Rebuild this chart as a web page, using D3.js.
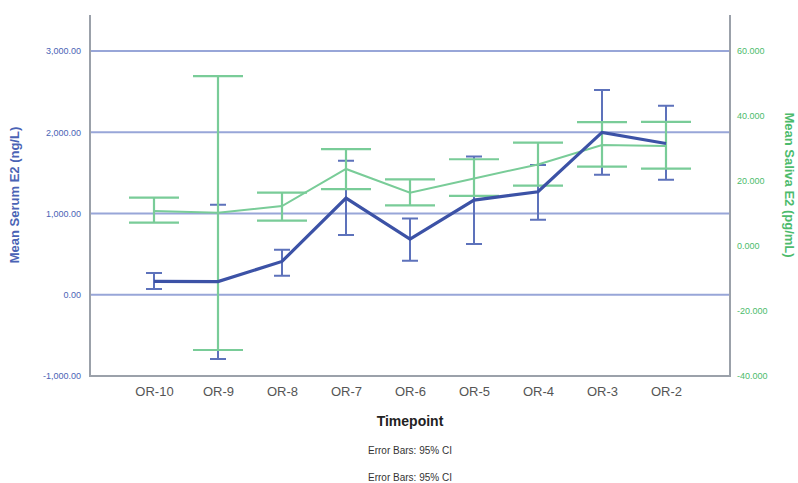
<!DOCTYPE html>
<meta charset="utf-8">
<head>
  <title>Serum and saliva E2 by timepoint</title>
  <style>
    body { margin: 0; background: #fff; }
    text { font-family: "Liberation Sans", Arial, sans-serif; }
  </style>
</head>

<body>
  <svg width="798" height="483"></svg>

  <script src="https://cdn.jsdelivr.net/npm/d3@7/dist/d3.min.js"></script>
  <script>
var timepoints = ['OR-10', 'OR-9', 'OR-8', 'OR-7', 'OR-6', 'OR-5', 'OR-4', 'OR-3', 'OR-2'];

// serum E2 (ng/L), left axis
var serumMean = [164, 162, 410, 1190, 685, 1165, 1268, 1998, 1862];
var serumLow  = [70, -792, 234, 735, 418, 624, 923, 1477, 1415];
var serumHigh = [267, 1108, 554, 1649, 939, 1702, 1596, 2519, 2326];

// saliva E2 (pg/mL), right axis
var salivaMean = [10.8, 10.2, 12.3, 23.7, 16.4, 20.8, 25.1, 31.1, 30.8];
var salivaLow  = [7.2, -32, 7.8, 17.5, 12.5, 15.4, 18.6, 24.4, 23.8];
var salivaHigh = [14.9, 52.3, 16.4, 29.8, 20.5, 26.7, 31.8, 38.1, 38.2];

var leftTicks = [-1000, 0, 1000, 2000, 3000];
var rightTicks = [-40, -20, 0, 20, 40, 60];

var svg = d3.select('svg');
var plotL = 90, plotR = 730, plotT = 15, plotB = 376;

var x = d3.scalePoint().domain(timepoints).range([plotL, plotR]).padding(1);
var yL = d3.scaleLinear().domain([-1000, 3000]).range([376, 51]);
var yR = d3.scaleLinear().domain([-40, 60]).range([376, 51]);

var loc = d3.formatLocale({decimal: '.', thousands: ',', grouping: [3], currency: ['', ''], minus: '-'});

var blue = '#3c52a6', blueBar = '#5d72bb', green = '#79cc98', grid = '#98a6d8';

// gridlines
svg.append('g')
  .selectAll('line')
  .data(leftTicks.filter(function(d) { return d > -1000; }))
  .enter().append('line')
  .attr('x1', plotL).attr('x2', plotR)
  .attr('y1', function(d) { return yL(d); })
  .attr('y2', function(d) { return yL(d); })
  .style('stroke', grid).style('stroke-width', 2);

// frame
svg.append('path')
  .attr('d', 'M' + plotL + ',' + plotT + 'V' + plotB + 'H' + plotR + 'V' + plotT)
  .style('fill', 'none').style('stroke', '#9ba1aa').style('stroke-width', 2);

// axes
var axL = svg.append('g')
  .attr('transform', 'translate(' + (plotL - 6) + ',0)')
  .call(d3.axisLeft(yL).tickValues(leftTicks).tickSize(0).tickFormat(loc.format(',.2f')));
axL.select('.domain').remove();
axL.selectAll('text').style('fill', '#4a63b5').style('font-size', '9px');

var axR = svg.append('g')
  .attr('transform', 'translate(' + (plotR + 4) + ',0)')
  .call(d3.axisRight(yR).tickValues(rightTicks).tickSize(0).tickFormat(loc.format('.3f')));
axR.select('.domain').remove();
axR.selectAll('text').style('fill', '#4cbb6c').style('font-size', '9px');

var axX = svg.append('g')
  .attr('transform', 'translate(0,' + (plotB + 8) + ')')
  .call(d3.axisBottom(x).tickSize(0));
axX.select('.domain').remove();
axX.selectAll('text').style('fill', '#555').style('font-size', '13px');

// error bars
function errorBars(mean, lo, hi, yScale, color, width, cap) {
  var g = svg.append('g');
  timepoints.forEach(function(t, i) {
    var cx = x(t);
    var d = 'M' + cx + ',' + yScale(lo[i]) + 'V' + yScale(hi[i]) +
      'M' + (cx - cap) + ',' + yScale(hi[i]) + 'H' + (cx + cap) +
      'M' + (cx - cap) + ',' + yScale(lo[i]) + 'H' + (cx + cap);
    g.append('path').attr('d', d)
      .style('fill', 'none').style('stroke', color).style('stroke-width', width);
  });
}

errorBars(serumMean, serumLow, serumHigh, yL, blueBar, 2, 8);
errorBars(salivaMean, salivaLow, salivaHigh, yR, green, 2.2, 25);

var lineL = d3.line()
  .x(function(d, i) { return x(timepoints[i]); })
  .y(function(d) { return yL(d); });
var lineR = d3.line()
  .x(function(d, i) { return x(timepoints[i]); })
  .y(function(d) { return yR(d); });

svg.append('path').datum(salivaMean).attr('d', lineR)
  .style('fill', 'none').style('stroke', green).style('stroke-width', 2);
svg.append('path').datum(serumMean).attr('d', lineL)
  .style('fill', 'none').style('stroke', blue).style('stroke-width', 3.2);

// titles
svg.append('text')
  .attr('transform', 'translate(19,' + 195 + ') rotate(-90)')
  .attr('text-anchor', 'middle')
  .style('font-size', '13px').style('font-weight', 'bold').style('fill', '#4a63b5')
  .text('Mean Serum E2 (ng/L)');

svg.append('text')
  .attr('transform', 'translate(785,' + 185 + ') rotate(90)')
  .attr('text-anchor', 'middle')
  .style('font-size', '13px').style('font-weight', 'bold').style('fill', '#4cbb6c')
  .text('Mean Saliva E2 (pg/mL)');

svg.append('text')
  .attr('x', 410).attr('y', 426)
  .attr('text-anchor', 'middle')
  .style('font-size', '14px').style('font-weight', 'bold').style('fill', '#222')
  .text('Timepoint');

svg.selectAll('.note')
  .data([454, 481])
  .enter().append('text')
  .attr('class', 'note')
  .attr('x', 410).attr('y', function(d) { return d; })
  .attr('text-anchor', 'middle')
  .style('font-size', '10px').style('fill', '#333')
  .text('Error Bars: 95% CI');
  </script>
</body>
</html>
